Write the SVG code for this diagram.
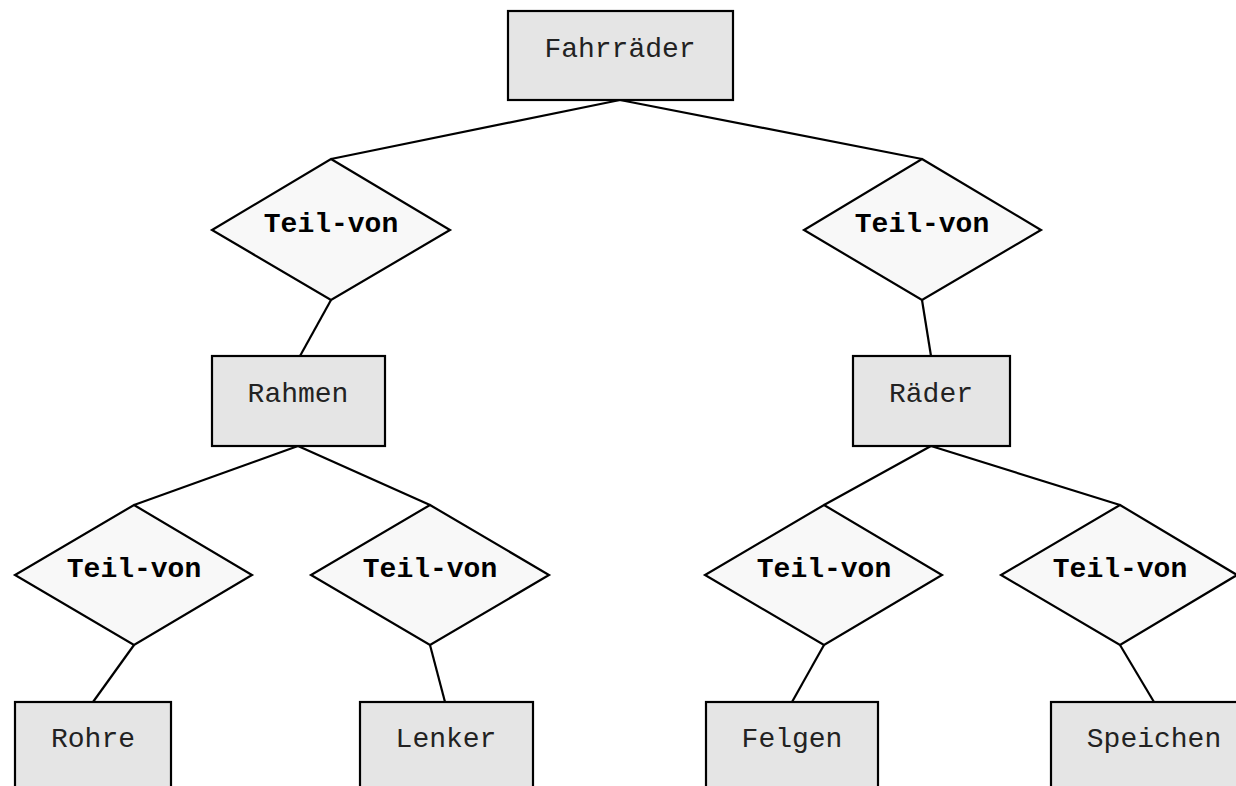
<svg xmlns="http://www.w3.org/2000/svg" width="1236" height="786" viewBox="0 0 1236 786">
  <style>
    .entity rect { fill: #e5e5e5; stroke: #000; stroke-width: 2.2; }
    .relation polygon { fill: #f8f8f8; stroke: #000; stroke-width: 2.2; }
    .entity text { font-family: "Liberation Mono", "Courier New", monospace; font-size: 28px; fill: #222; text-anchor: middle; }
    .relation text { font-family: "Liberation Mono", "Courier New", monospace; font-size: 28px; font-weight: bold; fill: #000; text-anchor: middle; }
    #links line { stroke: #000; stroke-width: 2.2; }
  </style>
  <rect width="1236" height="786" fill="#fff"/>

  <g id="links">
    <line x1="620" y1="100" x2="331" y2="159"/>
    <line x1="620" y1="100" x2="922" y2="159"/>
    <line x1="331" y1="300" x2="300" y2="356"/>
    <line x1="922" y1="300" x2="931" y2="356"/>
    <line x1="298" y1="446" x2="134" y2="505"/>
    <line x1="298" y1="446" x2="430" y2="505"/>
    <line x1="931" y1="446" x2="824" y2="505"/>
    <line x1="931" y1="446" x2="1120" y2="505"/>
    <line x1="134" y1="645" x2="93" y2="702"/>
    <line x1="430" y1="645" x2="445" y2="702"/>
    <line x1="824" y1="645" x2="792" y2="702"/>
    <line x1="1120" y1="645" x2="1154" y2="702"/>
  </g>

  <g id="fahrraeder" class="entity">
    <rect x="508" y="11" width="225" height="89"/>
    <text x="620" y="57">Fahrräder</text>
  </g>

  <g id="teil-von-1" class="relation">
    <polygon points="331,159 450,230 331,300 212,230"/>
    <text x="331" y="232">Teil-von</text>
  </g>
  <g id="teil-von-2" class="relation">
    <polygon points="922,159 1041,230 922,300 804,230"/>
    <text x="922" y="232">Teil-von</text>
  </g>

  <g id="rahmen" class="entity">
    <rect x="212" y="356" width="173" height="90"/>
    <text x="298" y="402">Rahmen</text>
  </g>
  <g id="raeder" class="entity">
    <rect x="853" y="356" width="157" height="90"/>
    <text x="931" y="402">Räder</text>
  </g>

  <g id="teil-von-3" class="relation">
    <polygon points="134,505 252,575 134,645 15,575"/>
    <text x="134" y="577">Teil-von</text>
  </g>
  <g id="teil-von-4" class="relation">
    <polygon points="430,505 549,575 430,645 311,575"/>
    <text x="430" y="577">Teil-von</text>
  </g>
  <g id="teil-von-5" class="relation">
    <polygon points="824,505 942,575 824,645 705,575"/>
    <text x="824" y="577">Teil-von</text>
  </g>
  <g id="teil-von-6" class="relation">
    <polygon points="1120,505 1237,575 1120,645 1001,575"/>
    <text x="1120" y="577">Teil-von</text>
  </g>

  <g id="rohre" class="entity">
    <rect x="15" y="702" width="156" height="100"/>
    <text x="93" y="747">Rohre</text>
  </g>
  <g id="lenker" class="entity">
    <rect x="360" y="702" width="173" height="100"/>
    <text x="446" y="747">Lenker</text>
  </g>
  <g id="felgen" class="entity">
    <rect x="706" y="702" width="172" height="100"/>
    <text x="792" y="747">Felgen</text>
  </g>
  <g id="speichen" class="entity">
    <rect x="1051" y="702" width="206" height="100"/>
    <text x="1154" y="747">Speichen</text>
  </g>
</svg>
